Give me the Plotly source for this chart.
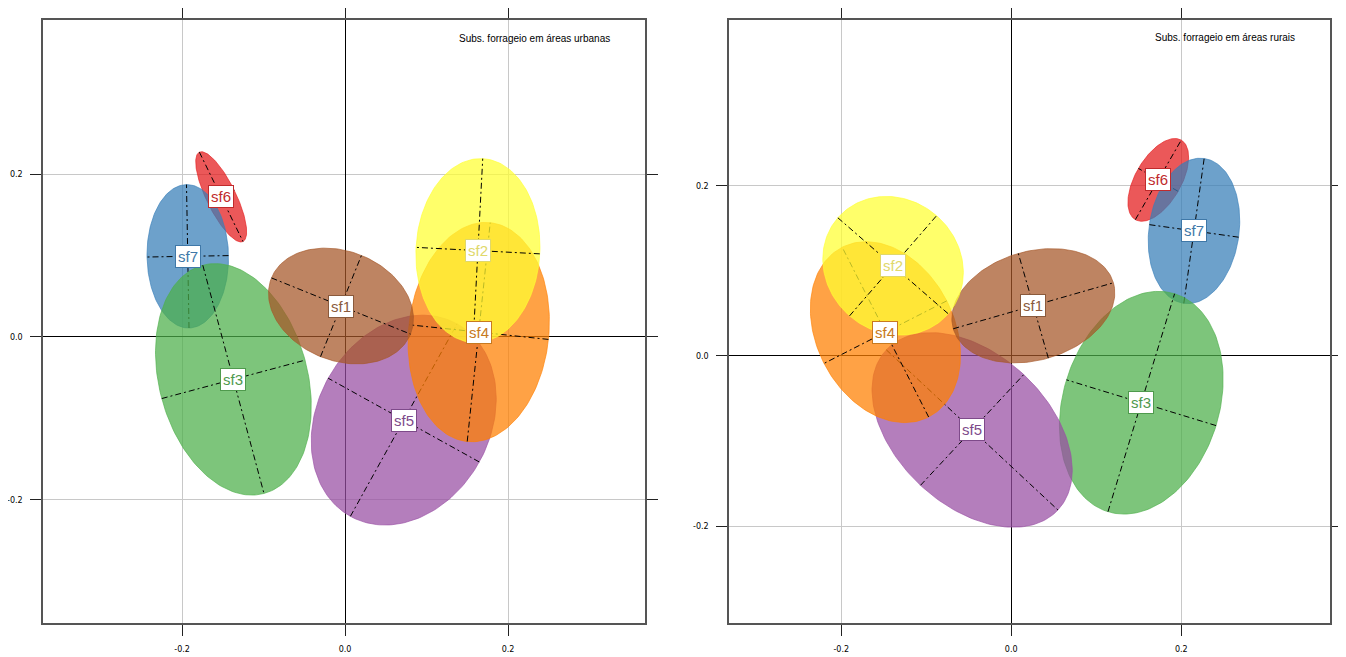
import numpy as np
import plotly.graph_objects as go

# ---------------- data ----------------
groups = ["sf1", "sf2", "sf3", "sf4", "sf5", "sf6", "sf7"]
colors = ["#A65628", "#FFFF33", "#4DAF4A", "#FF7F00", "#984EA3", "#E41A1C", "#377EB8"]
label_colors = ["#8a5a3c", "#e0d86a", "#4f9a4d", "#c77a20", "#7e4a8a", "#c02a2c", "#3f78a8"]
draw_order = ["sf6", "sf7", "sf3", "sf5", "sf4", "sf1", "sf2"]

# urban panel: ellipse centre, semi-axes and major-axis angle (deg)
urb_cx = [-0.005, 0.163, -0.137, 0.164, 0.072, -0.152, -0.193]
urb_cy = [0.038, 0.106, -0.052, 0.006, -0.102, 0.172, 0.099]
urb_a = [0.092, 0.113, 0.145, 0.135, 0.135, 0.061, 0.088]
urb_b = [0.067, 0.076, 0.091, 0.086, 0.106, 0.018, 0.050]
urb_ang = [-22, 87, -75, 84, 61, -64, 91]

# rural panel
rur_cx = [0.026, -0.139, 0.153, -0.148, -0.046, 0.173, 0.215]
rur_cy = [0.059, 0.106, -0.055, 0.028, -0.087, 0.207, 0.147]
rur_a = [0.098, 0.086, 0.134, 0.112, 0.138, 0.054, 0.086]
rur_b = [0.064, 0.078, 0.092, 0.081, 0.089, 0.027, 0.053]
rur_ang = [16, -41, 73, 117, -43, 60, 82]

titles = ["Subs. forrageio em áreas urbanas", "Subs. forrageio em áreas rurais"]
tick_vals = [-0.2, 0.0, 0.2]
tick_text = ["-0.2", "0.0", "0.2"]

# page body has an 8px margin; the figure is sized to end at the window edge
FW, FH, OFF = 1338, 649, 8

fig = go.Figure()


def hex_rgba(h, a):
    h = h.lstrip("#")
    return "rgba(%d,%d,%d,%.2f)" % (int(h[0:2], 16), int(h[2:4], 16), int(h[4:6], 16), a)


def add_panel(cx, cy, aa, bb, ang, xa, ya):
    t = np.linspace(0, 2 * np.pi, 181)
    for g in draw_order:
        i = groups.index(g)
        th = np.deg2rad(ang[i])
        c, s = np.cos(th), np.sin(th)
        ex = cx[i] + aa[i] * np.cos(t) * c - bb[i] * np.sin(t) * s
        ey = cy[i] + aa[i] * np.cos(t) * s + bb[i] * np.sin(t) * c
        fig.add_trace(go.Scatter(x=ex, y=ey, mode="lines", fill="toself",
                                 fillcolor=hex_rgba(colors[i], 0.73),
                                 line=dict(color=hex_rgba(colors[i], 0.8), width=0.8),
                                 hoverinfo="skip", showlegend=False,
                                 xaxis=xa, yaxis=ya))
        lx = [cx[i] - aa[i] * c, cx[i] + aa[i] * c, None,
              cx[i] + bb[i] * s, cx[i] - bb[i] * s]
        ly = [cy[i] - aa[i] * s, cy[i] + aa[i] * s, None,
              cy[i] - bb[i] * c, cy[i] + bb[i] * c]
        fig.add_trace(go.Scatter(x=lx, y=ly, mode="lines",
                                 line=dict(color="black", width=1, dash="6px,3px,2px,3px"),
                                 hoverinfo="skip", showlegend=False,
                                 xaxis=xa, yaxis=ya))
    for i in range(len(groups)):
        fig.add_annotation(x=cx[i], y=cy[i], xref=xa, yref=ya,
                           text=groups[i], showarrow=False,
                           font=dict(family="Liberation Sans, Arial", size=15,
                                     color=label_colors[i]),
                           bgcolor="white", bordercolor=label_colors[i],
                           borderwidth=1, borderpad=2)


add_panel(urb_cx, urb_cy, urb_a, urb_b, urb_ang, "x", "y")
add_panel(rur_cx, rur_cy, rur_a, rur_b, rur_ang, "x2", "y2")

fig.add_annotation(x=0.233, y=0.366, xref="x", yref="y", text=titles[0],
                   showarrow=False, font=dict(family="Liberation Sans, Arial", size=10, color="black"))
fig.add_annotation(x=0.252, y=0.374, xref="x2", yref="y2", text=titles[1],
                   showarrow=False, font=dict(family="Liberation Sans, Arial", size=10, color="black"))

axis_common = dict(tickmode="array", tickvals=tick_vals, ticktext=tick_text,
                   ticks="outside", ticklen=11, tickcolor="#222", tickwidth=1,
                   showline=True, linecolor="#555", linewidth=1.5, mirror="allticks",
                   showgrid=True, gridcolor="#c8c8c8", gridwidth=1,
                   zeroline=True, zerolinecolor="black", zerolinewidth=1,
                   tickfont=dict(family="DejaVu Sans, Arial", size=8, color="#000"),
                   fixedrange=True)


def xd(a, b):
    return [(a - OFF) / FW, (b - OFF) / FW]


ydom = [(657 - 623) / FH, (657 - 20) / FH]
fig.update_layout(
    width=FW, height=FH,
    margin=dict(l=0, r=0, t=0, b=0),
    paper_bgcolor="white", plot_bgcolor="white",
    xaxis=dict(domain=xd(43, 645), range=[-0.3706, 0.368], anchor="y",
               ticklabelstandoff=7, **axis_common),
    yaxis=dict(domain=ydom, range=[-0.351, 0.389], anchor="x",
               ticklabelstandoff=6, **axis_common),
    xaxis2=dict(domain=xd(729, 1330), range=[-0.332, 0.375], anchor="y2",
                ticklabelstandoff=7, **axis_common),
    yaxis2=dict(domain=ydom, range=[-0.314, 0.395], anchor="x2",
                ticklabelstandoff=6, **axis_common),
)

fig.write_html("out.html")
